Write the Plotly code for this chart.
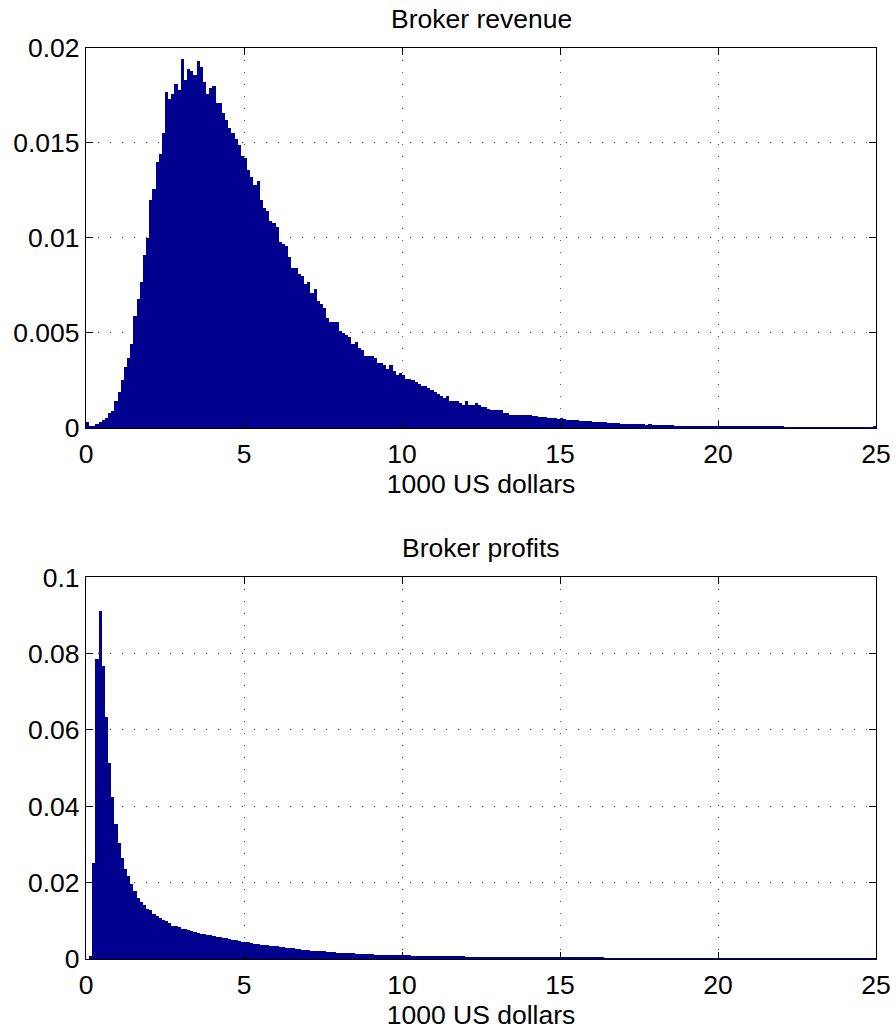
# plot.py - histogramas de receita e lucro dos corretores (estilo MATLAB)

import plotly.graph_objects as go

# ============================================================================
# DADOS (bins de 0.1 mil dolares de 0 a 25)
# ============================================================================

BIN_WIDTH = 0.1
X_TICKS = [0, 5, 10, 15, 20, 25]
REVENUE_Y_TICKS = [0, 0.005, 0.01, 0.015, 0.02]
REVENUE_Y_LABELS = ["0", "0.005", "0.01", "0.015", "0.02"]
PROFIT_Y_TICKS = [0, 0.02, 0.04, 0.06, 0.08, 0.1]
PROFIT_Y_LABELS = ["0", "0.02", "0.04", "0.06", "0.08", "0.1"]

revenue = [
    0.0003, 0.0001, 0.0001, 0.0002, 0.0003, 0.0004, 0.0005, 0.0008, 0.0009, 0.0014,
    0.0019, 0.0025, 0.0032, 0.0037, 0.0044, 0.0059, 0.0068, 0.0077, 0.0091, 0.0100,
    0.0120, 0.0126, 0.0140, 0.0144, 0.0155, 0.0177, 0.0173, 0.0176, 0.0181, 0.0178,
    0.0194, 0.0183, 0.0189, 0.0188, 0.0186, 0.0193, 0.0190, 0.0182, 0.0176, 0.0179,
    0.0180, 0.0171, 0.0171, 0.0166, 0.0162, 0.0158, 0.0155, 0.0152, 0.0149, 0.0143,
    0.0142, 0.0136, 0.0132, 0.0128, 0.0130, 0.0120, 0.0116, 0.0114, 0.0109, 0.0108,
    0.0106, 0.0098, 0.0097, 0.0096, 0.0090, 0.0084, 0.0084, 0.0081, 0.0080, 0.0076,
    0.0077, 0.0071, 0.0073, 0.0067, 0.0065, 0.0063, 0.0058, 0.0056, 0.0056, 0.0056,
    0.0051, 0.0050, 0.0049, 0.0048, 0.0044, 0.0045, 0.0042, 0.0041, 0.0038, 0.0038,
    0.0038, 0.0037, 0.0034, 0.0034, 0.0033, 0.0031, 0.0033, 0.0030, 0.0028, 0.0029,
    0.0028, 0.0026, 0.0026, 0.0025, 0.0024, 0.0023, 0.0022, 0.0022, 0.0021, 0.0020,
    0.0019, 0.0018, 0.0017, 0.0016, 0.0017, 0.0014, 0.0014, 0.0014, 0.0013, 0.0012,
    0.0014, 0.0012, 0.0012, 0.0013, 0.0012, 0.0011, 0.0011, 0.0010, 0.00095, 0.00095,
    0.00093, 0.00093, 0.0008, 0.0008, 0.0007, 0.0007, 0.0007, 0.0007, 0.0007, 0.0007,
    0.0007, 0.0006, 0.0006, 0.00058, 0.00055, 0.00056, 0.00052, 0.00054, 0.00050, 0.00047,
    0.00053, 0.00046, 0.00044, 0.00042, 0.00040, 0.00041, 0.00038, 0.00036, 0.00037, 0.00034,
    0.00032, 0.00033, 0.00030, 0.00029, 0.00030, 0.00027, 0.00026, 0.00026, 0.00024, 0.00023,
    0.00022, 0.00023, 0.00021, 0.00020, 0.00019, 0.00019, 0.00018, 0.00017, 0.00018, 0.00016,
    0.00015, 0.00015, 0.00014, 0.00014, 0.00013, 0.00013, 0.00012, 0.00012, 0.00012, 0.00011,
    0.00011, 0.00010, 0.00010, 0.00010, 0.00009, 0.00009, 0.00009, 0.00008, 0.00009, 0.00008,
    0.00008, 0.00008, 0.00007, 0.00007, 0.00007, 0.00007, 0.00006, 0.00006, 0.00006, 0.00006,
    0.00006, 0.00006, 0.00005, 0.00005, 0.00005, 0.00005, 0.00005, 0.00005, 0.00005, 0.00005,
    0.00005, 0.00004, 0.00004, 0.00004, 0.00004, 0.00004, 0.00004, 0.00004, 0.00004, 0.00004,
    0.00004, 0.00004, 0.00004, 0.00004, 0.00004, 0.00004, 0.00004, 0.00004, 0.00004, 0.00004,
    0.00004, 0.00004, 0.00004, 0.00004, 0.00004, 0.00004, 0.00004, 0.00004, 0.00004, 0.00010,
]

profits = [
    0.0, 0.0007, 0.0251, 0.0785, 0.0911, 0.0768, 0.0634, 0.0514, 0.0423, 0.0354,
    0.0304, 0.0265, 0.0236, 0.0217, 0.0195, 0.0177, 0.0160, 0.0149, 0.0141, 0.0131,
    0.0127, 0.0116, 0.0113, 0.0106, 0.0101, 0.0099, 0.0093, 0.0086, 0.0086, 0.0082,
    0.0079, 0.0077, 0.0074, 0.0072, 0.0071, 0.0068, 0.0066, 0.0064, 0.0063, 0.0061,
    0.0059, 0.0058, 0.0057, 0.0055, 0.0053, 0.0052, 0.0050, 0.0048, 0.0046, 0.0045,
    0.0044, 0.0043, 0.0041, 0.0039, 0.0038, 0.0037, 0.0036, 0.0035, 0.0034, 0.0033,
    0.0032, 0.0031, 0.0030, 0.0029, 0.0028, 0.0027, 0.0026, 0.0025, 0.0024, 0.0023,
    0.0022, 0.0021, 0.0021, 0.0020, 0.0019, 0.0019, 0.0018, 0.0017, 0.0017, 0.0016,
    0.0016, 0.0015, 0.0015, 0.0014, 0.0014, 0.0013, 0.0013, 0.0013, 0.0012, 0.0012,
    0.0012, 0.0011, 0.0011, 0.0011, 0.0010, 0.0010, 0.0010, 0.0010, 0.0009, 0.0009,
    0.0009, 0.0009, 0.0009, 0.0008, 0.0008, 0.0008, 0.0008, 0.0008, 0.0007, 0.0007,
    0.0007, 0.0007, 0.0007, 0.0007, 0.0006, 0.0006, 0.0006, 0.0006, 0.0006, 0.0006,
    0.0005, 0.0005, 0.0005, 0.0005, 0.0005, 0.0005, 0.0005, 0.0004, 0.0004, 0.0004,
    0.0004, 0.0004, 0.0004, 0.0004, 0.0004, 0.0004, 0.0003, 0.0003, 0.0003, 0.0003,
    0.0003, 0.0003, 0.0003, 0.0003, 0.0003, 0.0003, 0.0003, 0.0003, 0.0002, 0.0002,
    0.00025, 0.00025, 0.00024, 0.00024, 0.00023, 0.00023, 0.00022, 0.00022, 0.00021, 0.00021,
    0.00020, 0.00020, 0.00019, 0.00019, 0.00018, 0.00018, 0.00018, 0.00017, 0.00017, 0.00016,
    0.00016, 0.00016, 0.00015, 0.00015, 0.00015, 0.00014, 0.00014, 0.00014, 0.00013, 0.00013,
    0.00013, 0.00012, 0.00012, 0.00012, 0.00012, 0.00011, 0.00011, 0.00011, 0.00011, 0.00010,
    0.00010, 0.00010, 0.00010, 0.00010, 0.00009, 0.00009, 0.00009, 0.00009, 0.00009, 0.00008,
    0.00008, 0.00008, 0.00008, 0.00008, 0.00008, 0.00007, 0.00007, 0.00007, 0.00007, 0.00007,
    0.00007, 0.00006, 0.00006, 0.00006, 0.00006, 0.00006, 0.00006, 0.00006, 0.00005, 0.00005,
    0.00005, 0.00005, 0.00005, 0.00005, 0.00005, 0.00005, 0.00005, 0.00004, 0.00004, 0.00004,
    0.00004, 0.00004, 0.00004, 0.00004, 0.00004, 0.00004, 0.00004, 0.00004, 0.00003, 0.00003,
    0.00003, 0.00003, 0.00003, 0.00003, 0.00003, 0.00003, 0.00003, 0.00003, 0.00003, 0.00005,
]

# ============================================================================
# ESTILO
# ============================================================================

BAR_COLOR = "rgb(0,0,143)"
FONT = dict(family="Liberation Sans, Arial, sans-serif", size=26.5, color="black")

FIG_W, FIG_H = 896, 1030
TOP_DOMAIN = [0.583, 1]
BOTTOM_DOMAIN = [0, 0.419]


def bin_centers(values):
    return [(i + 0.5) * BIN_WIDTH for i in range(len(values))]


def axis_style(**extra):
    style = dict(
        showline=True, linecolor="black", linewidth=1.2, mirror="ticks",
        ticks="inside", ticklen=7, tickcolor="black", tickwidth=1.2,
        showgrid=True, gridcolor="#555555", gridwidth=1, griddash="1px,11px",
        zeroline=False, tickfont=FONT, automargin=False,
    )
    style.update(extra)
    return style


fig = go.Figure()
fig.add_trace(go.Bar(x=bin_centers(revenue), y=revenue, width=BIN_WIDTH,
                     marker=dict(color=BAR_COLOR, line=dict(width=0)),
                     xaxis="x", yaxis="y", showlegend=False))
fig.add_trace(go.Bar(x=bin_centers(profits), y=profits, width=BIN_WIDTH,
                     marker=dict(color=BAR_COLOR, line=dict(width=0)),
                     xaxis="x2", yaxis="y2", showlegend=False))

x_title = dict(text="1000 US dollars", font=FONT, standoff=5)

fig.update_layout(
    width=FIG_W, height=FIG_H,
    margin=dict(l=86, r=20, t=48, b=71),
    paper_bgcolor="white", plot_bgcolor="white",
    font=FONT, bargap=0,
    xaxis=axis_style(domain=[0, 1], range=[0, 25], tickvals=X_TICKS,
                     anchor="y", title=x_title, ticklabelstandoff=2),
    yaxis=axis_style(domain=TOP_DOMAIN, range=[0, 0.02], tickvals=REVENUE_Y_TICKS,
                     ticktext=REVENUE_Y_LABELS, anchor="x"),
    xaxis2=axis_style(domain=[0, 1], range=[0, 25], tickvals=X_TICKS,
                      anchor="y2", title=x_title, ticklabelstandoff=2),
    yaxis2=axis_style(domain=BOTTOM_DOMAIN, range=[0, 0.1], tickvals=PROFIT_Y_TICKS,
                      ticktext=PROFIT_Y_LABELS, anchor="x2"),
    annotations=[
        dict(text="Broker revenue", x=0.5, y=TOP_DOMAIN[1], xref="paper", yref="paper",
             xanchor="center", yanchor="bottom", yshift=12, showarrow=False, font=FONT),
        dict(text="Broker profits", x=0.5, y=BOTTOM_DOMAIN[1], xref="paper", yref="paper",
             xanchor="center", yanchor="bottom", yshift=12, showarrow=False, font=FONT),
    ],
)

# tira a margem padrao do body para a figura ocupar a janela inteira
fig.write_html("out.html", config={"displayModeBar": False},
               post_script="document.body.style.margin = '0';")
